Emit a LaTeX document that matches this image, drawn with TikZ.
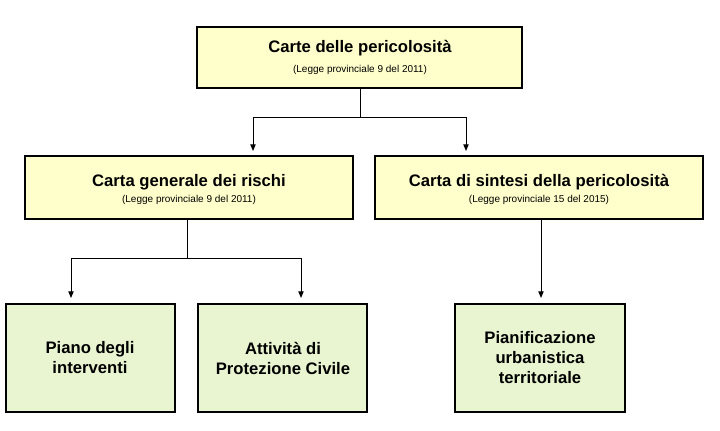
\documentclass[tikz,border=0pt]{standalone}
\usepackage{fontspec}
\setmainfont{Liberation Sans}
\usetikzlibrary{arrows.meta}
\definecolor{yel}{HTML}{FFFFCC}
\definecolor{grn}{HTML}{E8F5D0}
\begin{document}
\begin{tikzpicture}[x=0.75pt,y=-0.75pt,
  box/.style={draw=black,line width=1.5pt},
  lbl/.style={align=center,font=\bfseries\fontsize{12.5}{15}\selectfont},
  sub/.style={font=\fontsize{7.5}{9}\selectfont},
  conn/.style={line width=0.7pt},
  arr/.style={conn,-{Triangle[length=5pt,width=4pt]}}]
\useasboundingbox (0,0) rectangle (720,431);
\draw[box,fill=yel] (197,27) rectangle (522,88);
\node[lbl] (t) at (360,48) {Carte delle pericolosità};
\node[sub] (ts) at (360,70) {(Legge provinciale 9 del 2011)};
\draw[box,fill=yel] (25,156) rectangle (353,219);
\node[lbl] (l) at (189,182) {Carta generale dei rischi};
\node[sub] (ls) at (189,200) {(Legge provinciale 9 del 2011)};
\draw[box,fill=yel] (375,156) rectangle (703,219);
\node[lbl] (r) at (539,182) {Carta di sintesi della pericolosità};
\node[sub] (rs) at (539,200) {(Legge provinciale 15 del 2015)};
\draw[box,fill=grn] (6,304) rectangle (175,412);
\node[lbl] (b1) at (90,358) {Piano degli\\interventi};
\draw[box,fill=grn] (198,304) rectangle (367,412);
\node[lbl] (b2) at (283,358) {Attività di\\Protezione Civile};
\draw[box,fill=grn] (455,304) rectangle (625,412);
\node[lbl] (b3) at (540,358) {Pianificazione\\urbanistica\\territoriale};
\coordinate (ta) at (360,88);
\coordinate (tj) at (360,117);
\coordinate (la) at (187,219);
\coordinate (lj) at (187,258);
\coordinate (ra) at (541,219);
\draw[conn] (ta) -- (tj);
\draw[arr] (tj) -| (253,151);
\draw[arr] (tj) -| (466,151);
\draw[conn] (la) -- (lj);
\draw[arr] (lj) -| (71,298);
\draw[arr] (lj) -| (301,298);
\draw[arr] (ra) -- (541,298);
\end{tikzpicture}
\end{document}
